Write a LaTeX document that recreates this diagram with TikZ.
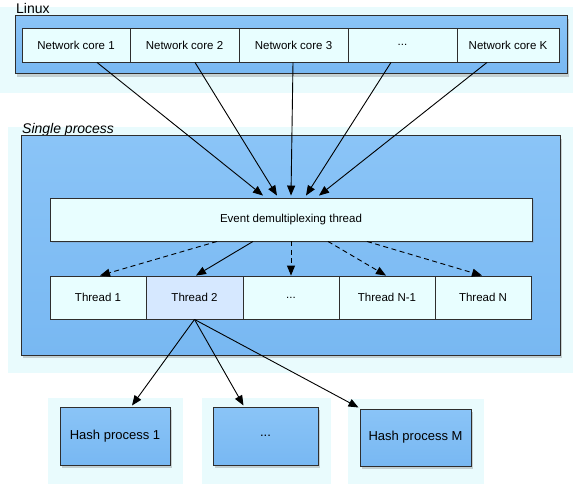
\documentclass[tikz,border=0pt]{standalone}
\usepackage{fontspec}
\setmainfont{Liberation Sans}
\usetikzlibrary{shadows,arrows.meta,calc}
\definecolor{bgcyan}{HTML}{E9FBFD}
\definecolor{boxblue}{HTML}{78B8F2}
\definecolor{boxbluetop}{HTML}{8AC4F7}
\definecolor{cellfill}{HTML}{E8FEFF}
\definecolor{cellsel}{HTML}{D6E8FF}
\definecolor{edge}{HTML}{2E2E2E}
\tikzset{
  groupbg/.style={fill=bgcyan, draw=none},
  bluebox/.style={draw=edge, line width=1pt, top color=boxbluetop, bottom color=boxblue,
    drop shadow={shadow xshift=2pt, shadow yshift=-3pt, opacity=0.35}},
  cell/.style={draw=edge, line width=0.9pt, fill=cellfill, inner sep=0pt,
    font=\fontsize{11.5}{13}\selectfont},
  hashbox/.style={draw=edge, line width=1pt, top color=boxbluetop, bottom color=boxblue,
    inner sep=0pt, font=\fontsize{13}{15}\selectfont,
    drop shadow={shadow xshift=2pt, shadow yshift=-3pt, opacity=0.35}},
  grouplabel/.style={inner sep=0pt, font=\fontsize{14}{16}\selectfont},
  arr/.style={draw=black, line width=0.9pt, -{Triangle[length=10pt,width=8pt]}},
  darr/.style={arr, dash pattern=on 5pt off 3.5pt},
}
\begin{document}
\begin{tikzpicture}[x=1pt,y=-1pt]
\useasboundingbox (0,0) rectangle (573,484);
% background regions
\fill[groupbg] (0,7) rectangle (573,93);
\fill[groupbg] (8,127) rectangle (573,373);
\fill[groupbg] (48,398) rectangle (183,484);
\fill[groupbg] (202,398) rectangle (331,484);
\fill[groupbg] (348,399) rectangle (484,484);
% labels
\node[grouplabel, anchor=base west] (linuxlbl) at (16,13.5) {Linux};
\node[grouplabel, anchor=base west] (proclbl) at (22,133.5) {\itshape Single process};
% Linux box
\node[bluebox, minimum width=552pt, minimum height=58pt, inner sep=0pt] (linuxbox) at (291,45) {};
\node[cell, minimum width=108pt, minimum height=34pt] (core1) at (76,45) {Network core 1};
\node[cell, minimum width=109pt, minimum height=34pt] (core2) at (184.5,45) {Network core 2};
\node[cell, minimum width=109pt, minimum height=34pt] (core3) at (293.5,45) {Network core 3};
\node[cell, minimum width=109pt, minimum height=34pt] (coredots) at (402.5,45) {...};
\node[cell, minimum width=102pt, minimum height=34pt] (coreK) at (508,45) {Network core K};
% process box
\node[bluebox, minimum width=539pt, minimum height=219pt, inner sep=0pt] (procbox) at (290.5,245.5) {};
\node[cell, minimum width=482pt, minimum height=43pt,
  drop shadow={shadow xshift=1.5pt, shadow yshift=-2pt, opacity=0.2}] (demux) at (291,219.5) {Event demultiplexing thread};
\node[cell, minimum width=96pt, minimum height=43pt] (t1) at (98,297.5) {Thread 1};
\node[cell, fill=cellsel, minimum width=97pt, minimum height=43pt] (t2) at (194.5,297.5) {Thread 2};
\node[cell, minimum width=96pt, minimum height=43pt] (tdots) at (291,297.5) {...};
\node[cell, minimum width=96pt, minimum height=43pt] (tn1) at (387,297.5) {Thread N-1};
\node[cell, minimum width=96pt, minimum height=43pt] (tn) at (483,297.5) {Thread N};
% hash processes
\node[hashbox, minimum width=110pt, minimum height=58pt] (hp1) at (115,436) {Hash process 1};
\node[hashbox, minimum width=105pt, minimum height=58pt] (hpdots) at (265.5,436) {...};
\node[hashbox, minimum width=111pt, minimum height=57pt] (hpm) at (415.5,437.5) {Hash process M};
% arrows cores -> demux
\draw[arr] ([xshift=21pt]core1.south) -- ([xshift=-28pt,yshift=2pt]demux.north);
\draw[arr] ([xshift=10.5pt]core2.south) -- ([xshift=-14pt,yshift=2pt]demux.north);
\draw[arr] ([xshift=-0.5pt]core3.south) -- ([yshift=2pt]demux.north);
\draw[arr] ([xshift=-11.5pt]coredots.south) -- ([xshift=15pt,yshift=2pt]demux.north);
\draw[arr] ([xshift=-21pt]coreK.south) -- ([xshift=28pt,yshift=2pt]demux.north);
% demux -> threads
\draw[darr] ([xshift=-74pt]demux.south) -- ([xshift=2pt]t1.north);
\draw[arr] ([xshift=-38pt]demux.south) -- ([xshift=1.5pt]t2.north);
\draw[darr] (demux.south) -- (tdots.north);
\draw[darr] ([xshift=37pt]demux.south) -- ([xshift=-1pt]tn1.north);
\draw[darr] ([xshift=76pt]demux.south) -- ([xshift=-1pt]tn.north);
% thread 2 -> hash processes
\draw[arr] (t2.south) -- ([xshift=17pt,yshift=1pt]hp1.north);
\draw[arr] (t2.south) -- ([xshift=-22pt,yshift=1pt]hpdots.north);
\draw[arr] (t2.south) -- ([xshift=-1pt,yshift=1pt]hpm.north west);
\end{tikzpicture}
\end{document}
